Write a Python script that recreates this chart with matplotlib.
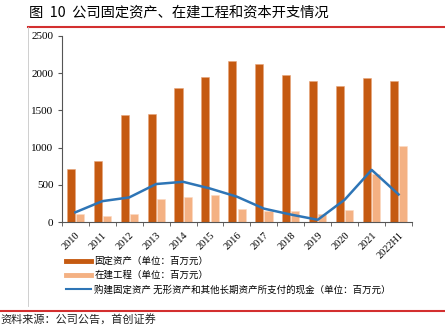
import numpy as np
import matplotlib
matplotlib.use("Agg")
import matplotlib.pyplot as plt
from matplotlib.lines import Line2D

plt.rcParams['font.family'] = ['Noto Sans CJK SC', 'DejaVu Sans']

years = ["2010", "2011", "2012", "2013", "2014", "2015", "2016",
         "2017", "2018", "2019", "2020", "2021", "2022H1"]
fixed_assets = [710, 820, 1440, 1450, 1800, 1950, 2160, 2120, 1970, 1900, 1830, 1930, 1890]
cip = [110, 80, 105, 310, 340, 360, 170, 150, 150, 110, 165, 640, 1020]
capex = [130, 280, 330, 510, 540, 450, 340, 180, 100, 30, 300, 700, 370]

c_dark = "#C55A11"
c_light = "#F4B183"
c_line = "#2E75B6"

fig = plt.figure(figsize=(4.45, 3.26), dpi=100)
ax = fig.add_axes([0.139, 0.319, 0.787, 0.571])

x = np.arange(len(years))
w = 0.3
ax.bar(x - w / 2 - 0.02, fixed_assets, width=w, color=c_dark, edgecolor="#E8A47A", linewidth=0.4)
ax.bar(x + w / 2 + 0.02, cip, width=w, color=c_light, edgecolor="#FBD9C3", linewidth=0.4)
ax.plot(x, capex, color=c_line, linewidth=1.8)

ax.set_xlim(-0.5, len(years) - 0.5)
ax.set_ylim(0, 2500)
ax.set_yticks([0, 500, 1000, 1500, 2000, 2500])
ax.set_yticklabels(["0", "500", "1000", "1500", "2000", "2500"],
                   family="Liberation Serif", fontsize=8)
ax.set_xticks(x)
ax.set_xticklabels(years, rotation=45, ha="right", rotation_mode="anchor",
                   family="Liberation Serif", fontsize=7.5)
ax.set_xticks(np.arange(-0.5, len(years)), minor=True)
ax.tick_params(axis="x", which="major", length=0, pad=6)
ax.tick_params(axis="x", which="minor", length=3, color="#555555", direction="out")
ax.tick_params(axis="y", length=3, color="#555555", pad=3)
for s in ["top", "right"]:
    ax.spines[s].set_visible(False)
for s in ["left", "bottom"]:
    ax.spines[s].set_color("#555555")
    ax.spines[s].set_linewidth(0.8)

# legend
handles = [Line2D([0], [0], color=c_dark, lw=3.5),
           Line2D([0], [0], color=c_light, lw=3.5),
           Line2D([0], [0], color=c_line, lw=1.5)]
labels = ["固定资产（单位：百万元）", "在建工程（单位：百万元）",
          "购建固定资产 无形资产和其他长期资产所支付的现金（单位：百万元）"]
fig.legend(handles, labels, loc="upper left", bbox_to_anchor=(0.148, 0.213),
           frameon=False, fontsize=6.8, handlelength=2.7, handletextpad=0.3,
           labelspacing=0.5, borderpad=0, borderaxespad=0)

# title, rules and source
fig.text(0.065, 0.962, "图  10  公司固定资产、在建工程和资本开支情况",
         fontsize=10.3, va="center", ha="left")
fig.add_artist(Line2D([0.063, 1.0], [0.917, 0.917], color="#D32F2F", lw=1.5))
fig.add_artist(Line2D([0.063, 0.063], [0.917, 0.06], color="#C8C8C8", lw=0.6))
fig.add_artist(Line2D([0.0, 1.0], [0.046, 0.046], color="#D32F2F", lw=1.5))
fig.text(0.002, 0.004, "资料来源：公司公告，首创证券", fontsize=8, style="italic",
         va="bottom", ha="left", color="#222222")

fig.savefig("out.png", dpi=100)
